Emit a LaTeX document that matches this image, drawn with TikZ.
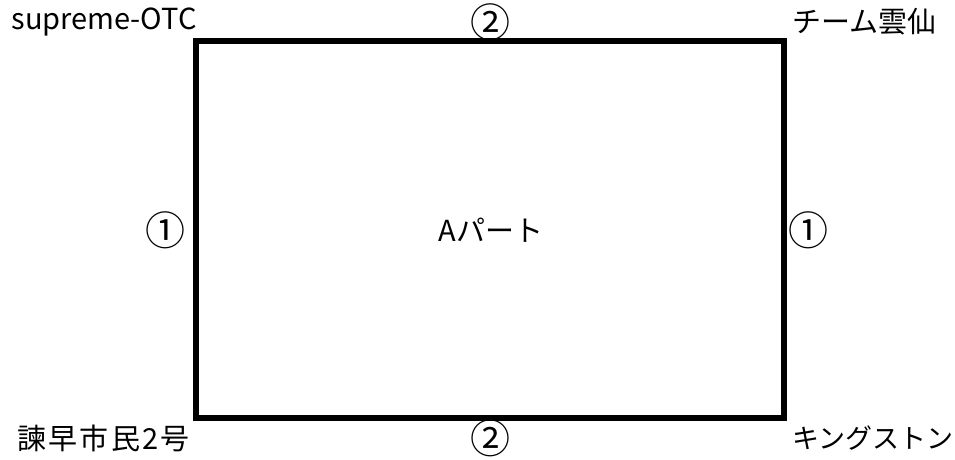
\documentclass[tikz,border=0pt]{standalone}
\usepackage{fontspec}
\setmainfont{Noto Sans CJK JP}
\newfontfamily\widejp[LetterSpace=8]{Noto Sans CJK JP}
\begin{document}
\begin{tikzpicture}[x=1pt,y=-1pt,
  lbl/.style={font=\fontsize{29}{33}\selectfont, inner sep=0pt},
  circ/.style={font=\fontsize{40}{44}\selectfont, inner sep=0pt},
  frame/.style={draw=black, line width=6pt}]
\useasboundingbox (0,0) rectangle (955,460);
\node[frame, minimum width=588pt, minimum height=377pt, inner sep=0pt] (box) at (490,229.5) {};
\node[lbl] (center) at (491,230) {Aパート};
\node[lbl, anchor=east] (tl) at (197,22) {supreme-OTC};
\node[lbl, anchor=west] (tr) at (792,22) {チーム雲仙};
\node[lbl, anchor=west, font=\widejp\fontsize{29}{33}\selectfont] (bl) at (17,438) {諫早市民2号};
\node[lbl, anchor=west, font=\fontsize{27}{31}\selectfont] (br) at (792,438) {キングストン};
\node[circ] (t2) at (490,22) {②};
\node[circ] (b2) at (490,438) {②};
\node[circ] (l1) at (165,230) {①};
\node[circ] (r1) at (808,230) {①};
\end{tikzpicture}
\end{document}
